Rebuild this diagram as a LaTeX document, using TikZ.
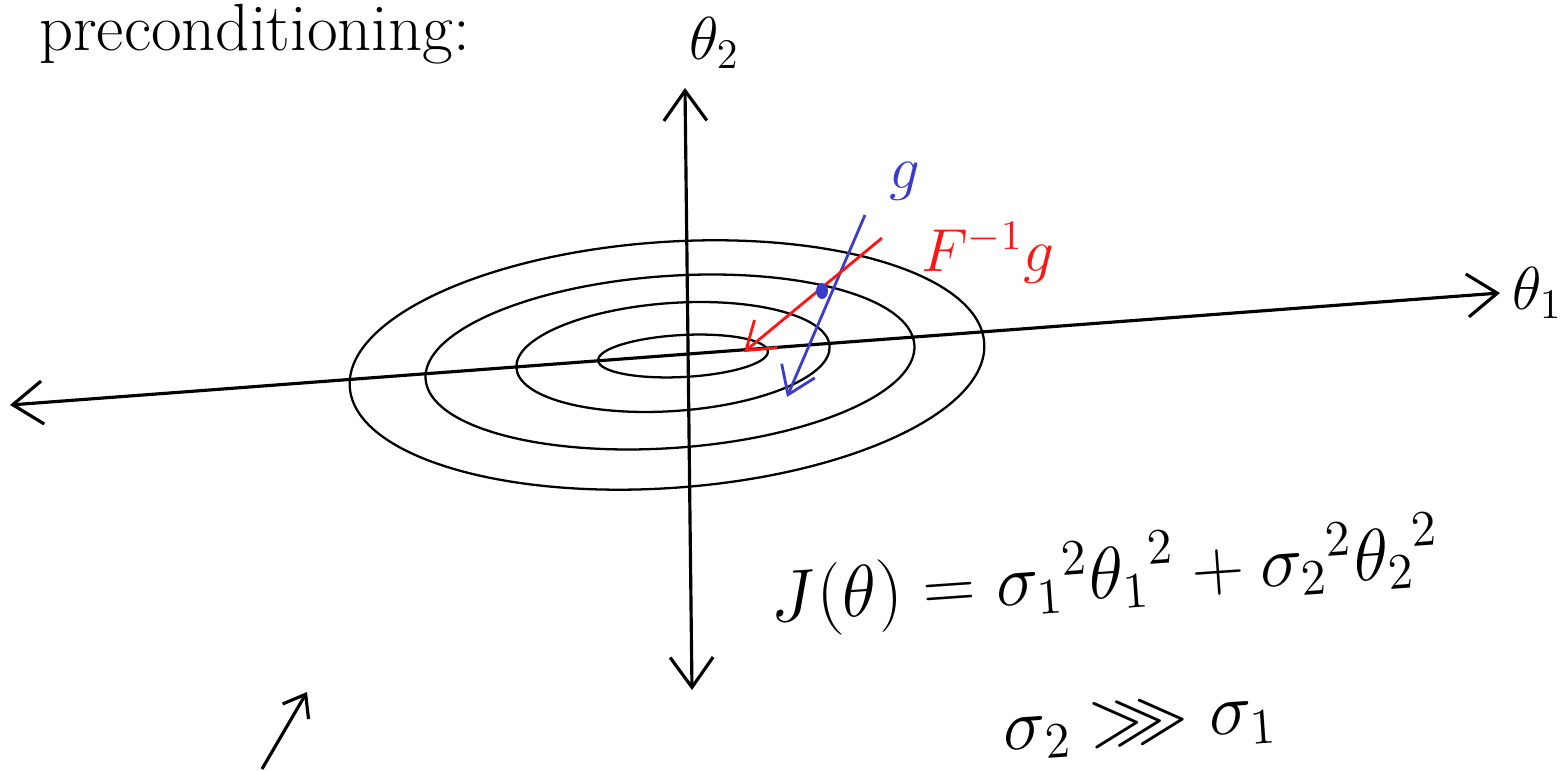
\documentclass[tikz,border=0pt]{standalone}
\usepackage{amssymb}
\usetikzlibrary{positioning, arrows.meta, calc}
\definecolor{gradblue}{HTML}{3C3CCB}
\definecolor{natred}{HTML}{FF1414}
\tikzset{
  axisline/.style={draw=black, line width=0.9pt,
                   {Straight Barb[length=3mm,width=4.3mm]}-{Straight Barb[length=3mm,width=4.3mm]}},
  contour/.style={draw=black, line width=0.65pt},
  gradarrow/.style={-{Straight Barb[length=2.6mm,width=3.6mm]}, draw=gradblue, line width=0.8pt},
  natarrow/.style={-{Straight Barb[length=2.6mm,width=3.6mm]}, draw=natred, line width=0.8pt},
  axislabel/.style={font=\LARGE, inner sep=1pt},
  note/.style={font=\fontsize{21}{25}\selectfont, inner sep=1pt},
}

\begin{document}
\begin{tikzpicture}

\useasboundingbox (0,0) rectangle (15.64,7.71);

%% ====================  TITLE  ====================

\node[note, anchor=base west, font=\fontsize{19}{22}\selectfont]
  (title) at (0.35,7.2) {preconditioning:};

%% ====================  AXES  ====================

\coordinate (xleft)  at (0.10,3.66);
\coordinate (xright) at (15.00,4.78);
\coordinate (ybot)   at (6.92,0.81);
\coordinate (ytop)   at (6.85,6.83);

\draw[axisline] (xleft) -- (xright);
\draw[axisline] (ybot) -- (ytop);

\node[axislabel, right=0.08cm of xright] (theta1) {$\theta_1$};
\node[axislabel, above right=0.15cm and 0.0cm of ytop] (theta2) {$\theta_2$};

%% ====================  LEVEL SETS  ====================

\coordinate (c1) at (6.83,4.15);
\coordinate (c2) at (6.73,4.14);
\coordinate (c3) at (6.70,4.09);
\coordinate (c4) at (6.67,4.06);

\draw[contour, rotate around={3:(c1)}] (c1) ellipse [x radius=0.85, y radius=0.21];
\draw[contour, rotate around={4:(c2)}] (c2) ellipse [x radius=1.57, y radius=0.54];
\draw[contour, rotate around={4:(c3)}] (c3) ellipse [x radius=2.45, y radius=0.86];
\draw[contour, rotate around={4:(c4)}] (c4) ellipse [x radius=3.18, y radius=1.23];

%% ====================  GRADIENTS  ====================

\coordinate (gstart) at (8.65,5.56);
\coordinate (gend)   at (7.87,3.74);
\coordinate (nstart) at (8.82,5.33);
\coordinate (nend)   at (7.44,4.19);

\draw[gradarrow] (gstart) -- (gend);
\draw[natarrow] (nstart) -- (nend);
\fill[gradblue] (8.22,4.80) ellipse [x radius=0.06, y radius=0.08];

\node[axislabel, text=gradblue, above right=0.1cm and 0.2cm of gstart] (glabel) {$g$};
\node[axislabel, text=natred, right=0.35cm of nstart, yshift=-0.15cm] (nlabel) {$F^{-1}g$};

%% ====================  COST  ====================

\node[note, rotate=4] (cost) at (11.05,1.95)
  {$J(\theta) = {\sigma_1}^2{\theta_1}^2 + {\sigma_2}^2{\theta_2}^2$};
\node[note, rotate=4] (ratio) at (11.40,0.45) {$\sigma_2 \ggg \sigma_1$};

%% stray arrow
\coordinate (sfrom) at (2.62,0.02);
\coordinate (sto)   at (3.07,0.79);
\draw[-{Straight Barb[length=2mm,width=3mm]}, line width=0.9pt] (sfrom) -- (sto);

\end{tikzpicture}
\end{document}
